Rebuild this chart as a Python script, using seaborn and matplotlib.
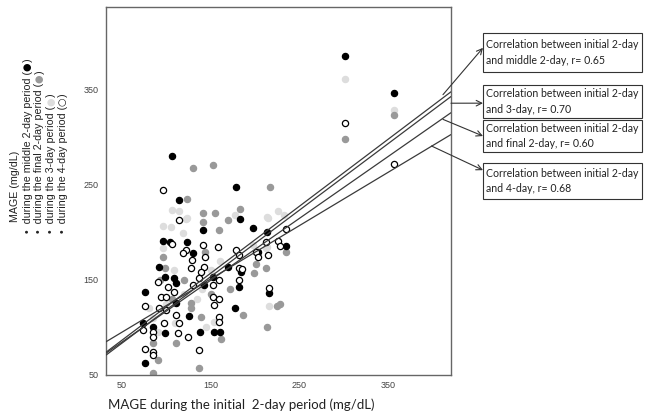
import matplotlib
matplotlib.use("Agg")
import matplotlib.pyplot as plt
import seaborn as sns
from matplotlib.patches import Rectangle

# MAGE values (x = initial 2-day, y = later period), mg/dL
middle_x = [301, 357, 106, 179, 114, 183, 96, 123, 198, 130, 213, 92, 98, 109, 111, 141, 76, 142,
            170, 184, 182, 153, 235, 203, 216, 154, 160, 74, 76, 85, 98, 126, 138, 111, 104, 177]
middle_y = [386, 347, 280, 248, 234, 214, 191, 190, 205, 178, 200, 164, 153, 152, 147, 203, 137, 145,
            164, 158, 143, 153, 186, 179, 136, 95, 95, 105, 63, 100, 94, 112, 95, 126, 190, 120]

final_x = [301, 357, 217, 130, 153, 123, 141, 155, 183, 170, 141, 159, 186, 213, 225, 228, 162, 85,
           137, 85, 111, 91, 139, 128, 128, 96, 98, 144, 120, 201, 212, 235, 199, 93, 172, 106, 150]
final_y = [298, 324, 248, 268, 271, 235, 220, 220, 225, 213, 211, 203, 113, 101, 123, 125, 88, 52,
           57, 84, 84, 66, 111, 120, 126, 174, 163, 179, 150, 167, 163, 179, 157, 150, 140, 130, 135]

day3_x = [301, 357, 96, 106, 123, 226, 177, 233, 213, 213, 105, 122, 119, 96, 109, 215, 198, 212,
          216, 154, 114, 85, 100, 120, 140, 90, 80, 150, 160, 135, 110, 145]
day3_y = [362, 329, 207, 224, 215, 223, 218, 218, 216, 185, 206, 214, 199, 184, 160, 215, 187, 184,
          123, 106, 223, 110, 125, 135, 140, 95, 120, 160, 170, 130, 105, 100]

day4_x = [301, 357, 96, 114, 106, 158, 141, 122, 119, 129, 128, 144, 142, 139, 137, 91, 102, 109,
          130, 179, 182, 201, 203, 212, 226, 228, 235, 215, 182, 185, 182, 159, 153, 216, 153, 159,
          154, 159, 159, 76, 94, 100, 92, 100, 97, 74, 85, 85, 76, 85, 85, 111, 114, 113, 124, 137]
day4_y = [315, 272, 245, 213, 188, 185, 187, 182, 178, 171, 163, 174, 164, 158, 152, 148, 143, 137,
          145, 182, 176, 179, 174, 190, 191, 186, 204, 176, 163, 162, 150, 150, 145, 142, 132, 130,
          124, 111, 106, 123, 132, 132, 121, 118, 105, 97, 95, 90, 77, 74, 71, 113, 105, 94, 90, 76]

# fitted lines: value at left / right edge of the x range
fit_x = [32, 421]
fit_middle = [74, 348]
fit_day3 = [71, 343]
fit_final = [73, 326]
fit_day4 = [85, 303]

box_texts = [
    "Correlation between initial 2-day\nand middle 2-day, r= 0.65",
    "Correlation between initial 2-day\nand 3-day, r= 0.70",
    "Correlation between initial 2-day\nand final 2-day, r= 0.60",
    "Correlation between initial 2-day\nand 4-day, r= 0.68",
]

sns.set_style("white")
plt.rcParams['font.family'] = ['Liberation Sans', 'DejaVu Sans']

fig = plt.figure(figsize=(6.47, 4.16), dpi=100)
ax = fig.add_axes([0.164, 0.0986, 0.533, 0.884])

dot = dict(s=20, linewidth=0.9, ax=ax, zorder=2)
sns.scatterplot(x=day3_x, y=day3_y, color="#dddddd", edgecolor="#dddddd", **dot)
sns.scatterplot(x=final_x, y=final_y, color="#999999", edgecolor="#999999", **dot)
sns.scatterplot(x=middle_x, y=middle_y, color="black", edgecolor="black", **dot)
sns.scatterplot(x=day4_x, y=day4_y, color="white", edgecolor="black", **dot)

for fy in [fit_middle, fit_day3, fit_final, fit_day4]:
    ax.plot(fit_x, fy, color="#3a3a3a", lw=0.9, zorder=3)

ax.set_xlim(32, 421)
ax.set_ylim(50, 437)
ax.set_xticks([50, 150, 250, 350])
ax.set_yticks([50, 150, 250, 350])
ax.tick_params(axis='both', labelsize=6.5, colors="#444444", length=4, width=0.8, pad=1.5)
ax.tick_params(axis='x', length=3)
for sp in ax.spines.values():
    sp.set_color("#666666")
    sp.set_linewidth(1.0)

fig.text(0.167, 0.018, "MAGE during the initial  2-day period (mg/dL)", fontsize=9.5,
         family=['Lato', 'DejaVu Sans'], color="#222222")

# y label: title line + four bullet lines with coloured symbols
fig.text(0.023, 0.466, "MAGE (mg/dL)", rotation=90, ha='center', va='bottom', fontsize=7.7,
         color="#222222")
legend_lines = [
    ("during the middle 2-day period (", "●", "black", 0.043),
    ("during the final 2-day period (", "●", "#999999", 0.061),
    ("during the 3-day period (", "●", "#dddddd", 0.079),
    ("during the 4-day period (", "○", "#222222", 0.097),
]
fig.canvas.draw()
rend = fig.canvas.get_renderer()
for body, sym, col, xf in legend_lines:
    y = 0.44
    pieces = [("•  " + body, "#222222", 7.7, ['Liberation Sans']),
              (sym, col, 7.0, ['DejaVu Sans']),
              (")", "#222222", 7.7, ['Liberation Sans'])]
    for piece, c, fs, fam in pieces:
        t = fig.text(xf, y, piece, rotation=90, ha='center', va='bottom', fontsize=fs, color=c,
                     family=fam)
        bb = t.get_window_extent(rend)
        y = bb.y1 / fig.bbox.height

# correlation boxes and their pointers
box_y = [(0.827, 0.094), (0.716, 0.079), (0.635, 0.077), (0.522, 0.0865)]
bx, bw = 0.7465, 0.2457
for (y0, h), txt in zip(box_y, box_texts):
    fig.patches.append(Rectangle((bx, y0), bw, h, transform=fig.transFigure, facecolor="white",
                                 edgecolor="#333333", lw=0.8))
    fig.text(bx + 0.005, y0 + h / 2, txt, va='center', ha='left', fontsize=7.6,
             family=['Lato', 'DejaVu Sans'], color="#222222", linespacing=1.5)

arrow_from = [(412, 345), (421, 336), (412, 319), (399, 291)]
arrow_to = [0.885, 0.752, 0.673, 0.591]
for (xd, yd), yt in zip(arrow_from, arrow_to):
    ax.annotate("", xy=(bx, yt), xycoords='figure fraction', xytext=(xd, yd), textcoords='data',
                arrowprops=dict(arrowstyle='->', lw=0.8, color="#333333", shrinkA=0, shrinkB=0),
                annotation_clip=False)

fig.savefig("out.png", dpi=100)
